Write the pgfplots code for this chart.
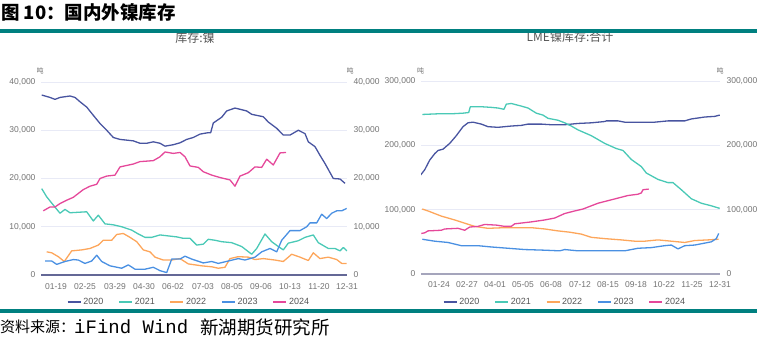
\documentclass[border=0pt]{standalone}
\usepackage{fontspec}
\setmainfont{Liberation Sans}
\setmonofont{Liberation Mono}
\newfontfamily\cjk{Noto Sans CJK SC}
\usepackage{pgfplots}
\pgfplotsset{compat=1.18}
\definecolor{cA}{RGB}{72,84,160}
\definecolor{cB}{RGB}{74,201,182}
\definecolor{cC}{RGB}{253,166,91}
\definecolor{cD}{RGB}{74,144,226}
\definecolor{cE}{RGB}{229,72,154}
\definecolor{tealbar}{RGB}{0,128,128}
\definecolor{tickgray}{RGB}{115,115,115}
\definecolor{leggray}{RGB}{85,85,85}
\definecolor{gridc}{RGB}{232,234,246}
\definecolor{axisL}{RGB}{100,104,150}
\definecolor{axisR}{RGB}{165,165,188}
\pgfplotsset{
  base/.style={
    scale only axis,
    axis x line*=bottom, axis y line*=left,
    y axis line style={draw=none},
    major tick length=0pt,
    ymajorgrids, grid style={gridc, line width=0.6pt},
    tick label style={font=\fontsize{8.5}{9}\selectfont, text=tickgray},
    yticklabel style={xshift=-2pt},
    scaled y ticks=false,
    /pgf/number format/fixed,
    /pgf/number format/1000 sep={,},
    /pgf/number format/assume math mode=true,
    legend columns=5,
    legend style={draw=none, fill=none, anchor=center,
      font=\fontsize{9}{10}\selectfont, text=leggray,
      nodes={inner xsep=1.5pt, inner ysep=1pt},
      /tikz/every even column/.append style={column sep=13pt}},
    legend image code/.code={\draw[#1, line width=2.4pt] (0pt,0pt) -- (13pt,0pt);},
    every axis plot/.append style={line width=1.3pt, line join=round, mark=none},
  },
  rightlab/.style={
    scale only axis,
    hide x axis,
    axis y line*=right,
    y axis line style={draw=none},
    major tick length=0pt,
    tick label style={font=\fontsize{8.5}{9}\selectfont, text=tickgray},
    yticklabel style={xshift=3pt},
    scaled y ticks=false,
    /pgf/number format/fixed,
    /pgf/number format/1000 sep={,},
    /pgf/number format/assume math mode=true,
  }
}
\begin{document}
\begin{tikzpicture}[x=1pt,y=1pt]
\useasboundingbox (0,0) rectangle (757,339);

% ---------------- left chart ----------------
\begin{axis}[base, at={(41pt,64pt)}, anchor=south west,
  width=306pt, height=193pt,
  xmin=41, xmax=347, ymin=0, ymax=40000,
  ytick={0,10000,20000,30000,40000},
  xtick={56,85,115,144,173,203,232,261,290,319,347},
  xticklabels={01-19,02-25,03-29,04-30,06-02,07-03,08-05,09-06,10-13,11-20,12-31},
  xticklabel style={yshift=-5pt},
  x axis line style={axisL, line width=1.2pt},
  legend style={at={(0.482,-0.14)}},
]
\addplot[cA] coordinates {(41.7,37300)(50,36800)(55,36400)(60,36800)(70,37100)(75,36800)(80,35900)(86.7,34800)(93.3,33100)(100,31400)(106.7,30000)(113.3,28500)(120,28100)(133.3,27800)(140,27300)(146.7,27300)(153.3,27600)(160,27300)(165,26700)(173.3,27000)(180,27400)(186.7,28100)(193.3,28500)(200,29200)(208.3,29500)(210.7,29500)(213.3,31500)(221.7,32700)(226.7,34000)(235,34600)(246.7,34000)(251.7,33300)(263.3,32800)(268.3,31700)(276.7,30400)(283.3,29000)(290,29000)(298.3,30000)(305,29300)(308.3,27600)(315,26600)(320,24800)(325,23100)(333.3,20000)(340,19900)(345,19000)};
\addlegendentry{2020}
\addplot[cB] coordinates {(41.7,17900)(46.7,16200)(53.3,14500)(60,12800)(65,13600)(70,12900)(78.3,13000)(86.7,13100)(93.3,11200)(98.3,12400)(105,10600)(113.3,10400)(121.7,10000)(131.7,9300)(138.3,8500)(145,7800)(151.7,7800)(160,8300)(168.3,8100)(176.7,7900)(183.3,7600)(190,7600)(196.7,6200)(203.3,6400)(208.3,7400)(215,7200)(221.7,6900)(231.7,6700)(241.7,5900)(251.7,4300)(256.7,5500)(265,8500)(271.7,6900)(278.3,5900)(283.3,5200)(288.3,6600)(298.3,7100)(305,7800)(313.3,8300)(318.3,6700)(328.3,5500)(335,5500)(340,5000)(343.3,5700)(347,5000)};
\addlegendentry{2021}
\addplot[cC] coordinates {(46.7,4800)(51.7,4600)(58.3,3800)(64.3,2800)(71.7,5000)(81.7,5200)(90,5500)(98.3,6200)(103.3,7200)(111.7,7200)(116.7,8400)(123.3,8600)(130,7800)(136.7,6900)(143.3,5200)(150,4800)(155,3700)(163.3,3100)(171.7,3100)(180,3400)(188.3,2300)(201.7,1900)(211.7,1700)(218.3,1400)(225,1600)(230,3400)(238.3,3800)(248.3,3700)(255,3200)(263.3,3400)(275,3100)(283.3,2800)(291.7,4300)(300,3700)(308.3,3000)(313.3,4600)(320,3400)(328.3,3700)(336.7,3200)(341.7,2400)(346.7,2400)};
\addlegendentry{2022}
\addplot[cD] coordinates {(45,2900)(51.7,2900)(56.7,2200)(65,2800)(73.3,3200)(78.3,3100)(85,2400)(91.7,2900)(96.7,4100)(101.7,2800)(110,1900)(121.7,1400)(128.3,2100)(135,1200)(145,1200)(153.3,1600)(160,900)(166.7,500)(171.7,3300)(180,3300)(185,3900)(191.7,3300)(203.3,2500)(211.7,2800)(218.3,2400)(228.3,2900)(238.3,3400)(245,3100)(255,3700)(261.7,4800)(270,5500)(276.7,4800)(281.7,7200)(290,9200)(300,9200)(306.7,10000)(310,10800)(316.7,10800)(321.7,12600)(326.7,11700)(331.7,12800)(336.7,13300)(341.7,13300)(346.7,13800)};
\addlegendentry{2023}
\addplot[cE] coordinates {(43.3,13300)(50,14100)(55,14100)(60,14800)(66.7,15500)(73.3,16100)(78.3,16900)(83.3,17700)(90,18400)(96.7,18800)(100,20000)(106.7,20500)(115,20700)(120,22400)(133.3,23000)(140,23500)(153.3,23700)(160,24500)(165,25500)(173.3,25200)(180,25400)(185,24500)(190,22600)(198.3,22300)(203.3,21400)(211.7,20700)(220,20200)(230,19700)(235,18400)(240,20500)(248.3,21200)(255,22400)(261.7,22300)(266.7,24000)(273.3,22800)(280,25300)(286,25400)};
\addlegendentry{2024}
\end{axis}
\begin{axis}[rightlab, at={(41pt,64pt)}, anchor=south west,
  width=306pt, height=193pt,
  xmin=41, xmax=347, ymin=0, ymax=40000,
  ytick={0,10000,20000,30000,40000}]
\end{axis}

% ---------------- right chart ----------------
\begin{axis}[base, at={(421pt,65pt)}, anchor=south west,
  width=299pt, height=193pt,
  xmin=421, xmax=720, ymin=0, ymax=300000,
  ytick={0,100000,200000,300000},
  xtick={439,467,495,523,551,580,608,636,664,692,720},
  xticklabels={01-24,02-27,04-01,05-05,06-08,07-12,08-15,09-18,10-22,11-25,12-31},
  xticklabel style={yshift=-4pt},
  x axis line style={axisR, line width=2pt},
  legend style={at={(0.48,-0.145)}},
]
\addplot[cA] coordinates {(420.7,154000)(424.7,162000)(429.7,177000)(434.7,187000)(438,192000)(443,194000)(449.7,203000)(456.3,215000)(463,229000)(468,235000)(473,236000)(481.3,233000)(488,229000)(498,228000)(511.3,230000)(521.3,231000)(528,233000)(541.3,233000)(551.3,232000)(564.7,232000)(578,234000)(591.3,235000)(604.7,237000)(606.3,238000)(618,238000)(624.7,236000)(644.7,236000)(654.7,236000)(668,238000)(684.7,238000)(691.3,241000)(704.7,244000)(714.7,245000)(719.7,247000)};
\addlegendentry{2020}
\addplot[cB] coordinates {(422.3,248000)(438,249000)(451.3,249000)(463,250000)(468.7,251000)(470.3,260000)(481.3,260000)(491.3,259000)(498,258000)(504,256000)(506.3,264000)(511.3,265000)(521.3,261000)(528,258000)(536.3,250000)(543,247000)(548,242000)(558,239000)(564.7,235000)(571.3,230000)(578,224000)(591.3,215000)(604.7,203000)(616.3,195000)(623,192000)(631.3,178000)(641.3,167000)(646.3,157000)(658,147000)(668,142000)(673,142000)(681.3,131000)(691.3,117000)(701.3,110000)(711.3,106000)(719.7,102000)};
\addlegendentry{2021}
\addplot[cC] coordinates {(422.3,101000)(428,98000)(441.3,90000)(454.7,84000)(464.7,79000)(474.7,74000)(488,71000)(504.7,72000)(518,72000)(531.3,72000)(544.7,70000)(558,67000)(569.7,65000)(581.3,62000)(591.3,57000)(604.7,55000)(621.3,53000)(634.7,51000)(644.7,51000)(658,53000)(671.3,51000)(684.7,49000)(694.7,52000)(708,53000)(718.7,54000)};
\addlegendentry{2022}
\addplot[cD] coordinates {(422.3,54000)(434.7,51000)(448,49000)(461.3,44000)(478,44000)(491.3,42000)(508,40000)(524.7,38000)(544.7,37000)(559.7,36000)(564.7,38000)(578,36000)(594.7,36000)(611.3,36000)(624.7,36000)(638,40000)(651.3,41000)(664.7,44000)(671.3,45000)(678,39000)(684.7,44000)(694.7,45000)(704.7,48000)(711.3,50000)(716.3,55000)(718.7,63000)};
\addlegendentry{2023}
\addplot[cE] coordinates {(421.3,63000)(424.7,64000)(428,67000)(441.3,68000)(444.7,70000)(458,71000)(464.7,68000)(469.7,73000)(478,74000)(484.7,77000)(496.3,76000)(504.7,74000)(511.3,74000)(514.7,78000)(531.3,81000)(544.7,84000)(554.7,87000)(564.7,94000)(574.7,98000)(583,101000)(591.3,106000)(598,110000)(608,114000)(618,118000)(628,122000)(638,124000)(641.3,126000)(643,131000)(648.7,132000)};
\addlegendentry{2024}
\end{axis}
\begin{axis}[rightlab, at={(421pt,65pt)}, anchor=south west,
  width=299pt, height=193pt,
  xmin=421, xmax=720, ymin=0, ymax=300000,
  ytick={0,100000,200000,300000}]
\end{axis}

% ---------------- texts ----------------
\node[text=leggray, font=\cjk\fontsize{12}{12}\selectfont] at (195,301) {库存:镍};
\node[text=leggray, font=\cjk\fontsize{12}{12}\selectfont] at (570,302) {LME镍库存:合计};
\fill[tealbar] (0,306) rectangle (757,309.5);
\fill[tealbar] (0,26) rectangle (757,29.5);
\node[anchor=west, inner sep=0pt, font=\cjk\bfseries\fontsize{18.5}{18.5}\selectfont] at (1,327) {图 10：国内外镍库存};

\foreach \xx in {40,350,420.5,720}{
  \node[text=tickgray, font=\cjk\fontsize{7}{7}\selectfont, inner sep=0pt] at (\xx,268) {吨};
}

\node[anchor=west, inner sep=0pt, font=\cjk\fontsize{15}{15}\selectfont] at (0,12) {资料来源：};
\node[anchor=west, inner sep=0pt, font=\ttfamily\fontsize{19}{19}\selectfont] at (74,12) {iFind Wind};
\node[anchor=west, inner sep=0pt, font=\cjk\fontsize{18.5}{18.5}\selectfont] at (200,12) {新湖期货研究所};
\end{tikzpicture}
\end{document}
